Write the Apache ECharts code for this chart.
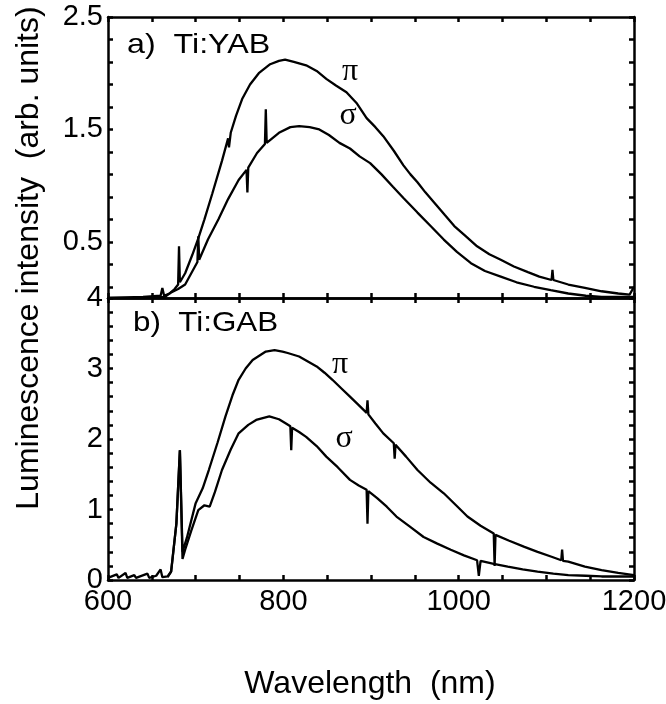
<!DOCTYPE html>
<html>
<head>
<meta charset="utf-8">
<script src="https://cdn.jsdelivr.net/npm/echarts@6/dist/echarts.min.js"></script>
<style>
  html, body { margin: 0; padding: 0; background: #fff; }
  #chart { width: 666px; height: 704px; }
</style>
</head>
<body>
<div id="chart"></div>
<script>
"use strict";
// a) Ti:YAB, pi polarisation
const yabPiWl = [600, 640, 660, 662, 664, 670, 676, 680, 681, 682, 688, 696, 703, 710, 719, 730, 737, 738, 740, 746, 753, 762, 772, 785, 795, 802, 812, 826, 838, 849, 860, 872, 884, 895, 905, 914, 926, 937, 945, 953, 962, 972, 984, 995, 1008, 1021, 1035, 1048, 1063, 1079, 1092, 1106, 1107, 1108, 1125, 1144, 1163, 1182, 1195, 1200];
const yabPiVal = [0.0, 0.01, 0.02, 0.09, 0.02, 0.04, 0.08, 0.12, 0.46, 0.14, 0.22, 0.38, 0.53, 0.7, 0.93, 1.22, 1.42, 1.34, 1.47, 1.62, 1.77, 1.9, 2.0, 2.08, 2.11, 2.12, 2.1, 2.07, 2.02, 1.95, 1.89, 1.83, 1.73, 1.6, 1.52, 1.44, 1.31, 1.18, 1.1, 1.03, 0.94, 0.85, 0.74, 0.64, 0.55, 0.46, 0.39, 0.34, 0.28, 0.23, 0.19, 0.16, 0.25, 0.16, 0.12, 0.09, 0.06, 0.04, 0.03, 0.1];
// a) Ti:YAB, sigma polarisation
const yabSigWl = [600, 640, 665, 672, 680, 688, 695, 702, 703, 704, 714, 726, 737, 749, 758, 759, 760, 770, 779, 780, 781, 795, 808, 818, 830, 841, 852, 864, 876, 887, 899, 912, 925, 937, 953, 968, 983, 998, 1014, 1030, 1048, 1066, 1086, 1105, 1125, 1145, 1163, 1200];
const yabSigVal = [0.0, 0.0, 0.01, 0.05, 0.08, 0.12, 0.22, 0.32, 0.55, 0.34, 0.52, 0.7, 0.88, 1.05, 1.14, 0.94, 1.16, 1.29, 1.37, 1.68, 1.38, 1.47, 1.52, 1.53, 1.52, 1.5, 1.45, 1.38, 1.33, 1.26, 1.2, 1.1, 0.99, 0.89, 0.76, 0.64, 0.52, 0.41, 0.31, 0.24, 0.19, 0.14, 0.1, 0.07, 0.04, 0.02, 0.01, 0.01];
// b) Ti:GAB, pi polarisation
const gabPiWl = [600, 610, 612, 620, 622, 630, 632, 645, 647, 655, 660, 662, 668, 672, 678, 682, 685, 690, 700, 708, 715, 725, 734, 742, 749, 757, 765, 780, 790, 799, 805, 818, 828, 838, 847, 856, 866, 876, 886, 895, 896, 897, 905, 914, 926, 927, 928, 940, 953, 968, 983, 997, 1010, 1025, 1040, 1041, 1042, 1057, 1075, 1090, 1106, 1117, 1118, 1119, 1125, 1144, 1163, 1182, 1200];
const gabPiVal = [0.03, 0.08, 0.03, 0.1, 0.03, 0.07, 0.03, 0.09, 0.03, 0.06, 0.15, 0.04, 0.05, 0.12, 0.8, 1.84, 0.4, 0.6, 1.09, 1.3, 1.56, 1.95, 2.32, 2.62, 2.84, 3.0, 3.12, 3.24, 3.26, 3.24, 3.22, 3.17, 3.1, 3.03, 2.94, 2.84, 2.72, 2.6, 2.48, 2.37, 2.55, 2.35, 2.22, 2.08, 1.94, 1.72, 1.92, 1.75, 1.56, 1.38, 1.23, 1.06, 0.9, 0.77, 0.66, 0.2, 0.64, 0.56, 0.47, 0.4, 0.33, 0.28, 0.43, 0.27, 0.26, 0.19, 0.14, 0.1, 0.07];
// b) Ti:GAB, sigma polarisation
const gabSigWl = [668, 672, 678, 682, 685, 688, 695, 703, 710, 716, 722, 730, 740, 749, 760, 769, 784, 795, 803, 808, 809, 810, 818, 826, 838, 849, 862, 876, 886, 895, 896, 897, 907, 918, 929, 944, 960, 975, 991, 1006, 1021, 1023, 1025, 1040, 1056, 1073, 1090, 1108, 1125, 1145, 1163, 1182, 1200];
const gabSigVal = [0.04, 0.12, 0.8, 1.84, 0.3, 0.43, 0.7, 0.99, 1.06, 1.04, 1.25, 1.56, 1.85, 2.08, 2.2, 2.27, 2.32, 2.28, 2.22, 2.18, 1.84, 2.16, 2.1, 2.03, 1.9, 1.75, 1.6, 1.42, 1.34, 1.28, 0.8, 1.26, 1.16, 1.04, 0.9, 0.76, 0.61, 0.52, 0.43, 0.35, 0.28, 0.06, 0.27, 0.23, 0.19, 0.15, 0.12, 0.09, 0.07, 0.06, 0.05, 0.05, 0.05];

// ticks and labels
const xTicks = [600, 650, 700, 750, 800, 850, 900, 950, 1000, 1050, 1100, 1150, 1200];
const xLabels = [600, 800, 1000, 1200];
const yabTicks = [0.1, 0.3, 0.5, 0.7, 0.9, 1.1, 1.3, 1.5, 1.7, 1.9, 2.1, 2.3, 2.5];
const yabLabels = [0.5, 1.5, 2.5];
const gabTicks = [0, 0.2, 0.4, 0.6, 0.8, 1, 1.2, 1.4, 1.6, 1.8, 2, 2.2, 2.4, 2.6, 2.8, 3, 3.2, 3.4, 3.6, 3.8, 4];
const gabLabels = [0, 1, 2, 3, 4];

const chart = echarts.init(document.getElementById('chart'));
const FONT = 'Liberation Sans, Arial, sans-serif';
const SERIF = 'Liberation Serif, Times New Roman, serif';

function pairs(xs, ys) {
    return xs.map((x, i) => [x, ys[i]]);
}
function xAxis(grid, pos, labels) {
    return {
        type: 'value', gridIndex: grid, position: pos, min: 600, max: 1200,
        axisLine: { show: true, onZero: false, lineStyle: { color: '#000', width: 2.5 } },
        axisTick: { show: true, inside: true, length: 5, customValues: xTicks, lineStyle: { color: '#000', width: 2.5 } },
        axisLabel: labels ? {
            show: true, customValues: xLabels, color: '#000', fontSize: 29, fontFamily: FONT, margin: 7,
            formatter: v => String(v)
        } : { show: false },
        splitLine: { show: false }
    };
}
function yAxis(grid, pos, max, ticks, labels) {
    return {
        type: 'value', gridIndex: grid, position: pos, min: 0, max: max,
        axisLine: { show: true, onZero: false, lineStyle: { color: '#000', width: 2.5 } },
        axisTick: { show: true, inside: true, length: 5, customValues: ticks, lineStyle: { color: '#000', width: 2.5 } },
        axisLabel: labels ? {
            show: true, customValues: labels, color: '#000', fontSize: 29, fontFamily: FONT, margin: 5,
            formatter: v => String(v)
        } : { show: false },
        splitLine: { show: false }
    };
}
function line(name, xs, ys, idx) {
    return {
        name, type: 'line', xAxisIndex: idx, yAxisIndex: idx,
        data: pairs(xs, ys), showSymbol: false, symbol: 'none',
        lineStyle: { color: '#000', width: 2.3 }
    };
}

const option = {
    animation: false,
    backgroundColor: '#fff',
    grid: [
        { left: 108, top: 17, width: 526, height: 281, outerBoundsMode: 'none' },
        { left: 108, top: 298, width: 526, height: 282, outerBoundsMode: 'none' }
    ],
    xAxis: [
        xAxis(0, 'bottom', false),
        xAxis(0, 'top', false),
        xAxis(1, 'bottom', true),
        xAxis(1, 'top', false)
    ],
    yAxis: [
        yAxis(0, 'left', 2.5, yabTicks, yabLabels),
        yAxis(0, 'right', 2.5, yabTicks, null),
        yAxis(1, 'left', 4, gabTicks, gabLabels),
        yAxis(1, 'right', 4, gabTicks, null)
    ],
    series: [
        line('YAB pi', yabPiWl, yabPiVal, 0),
        line('YAB sigma', yabSigWl, yabSigVal, 0),
        line('GAB pi', gabPiWl, gabPiVal, 2),
        line('GAB sigma', gabSigWl, gabSigVal, 2)
    ],
    graphic: [
        { type: 'text', x: 127, y: 45, scaleX: 1.15, style: { text: 'a)  Ti:YAB', fontSize: 28, fontFamily: FONT, fill: '#000', verticalAlign: 'middle' } },
        { type: 'text', x: 133, y: 323, scaleX: 1.12, style: { text: 'b)  Ti:GAB', fontSize: 28, fontFamily: FONT, fill: '#000', verticalAlign: 'middle' } },
        { type: 'text', x: 350, y: 72, style: { text: 'π', fontSize: 32, fontFamily: SERIF, fill: '#000', align: 'center', verticalAlign: 'middle' } },
        { type: 'text', x: 348, y: 116, style: { text: 'σ', fontSize: 32, fontFamily: SERIF, fill: '#000', align: 'center', verticalAlign: 'middle' } },
        { type: 'text', x: 340, y: 365, style: { text: 'π', fontSize: 32, fontFamily: SERIF, fill: '#000', align: 'center', verticalAlign: 'middle' } },
        { type: 'text', x: 344, y: 439, style: { text: 'σ', fontSize: 32, fontFamily: SERIF, fill: '#000', align: 'center', verticalAlign: 'middle' } },
        { type: 'text', x: 370, y: 684, style: { text: 'Wavelength  (nm)', fontSize: 32, fontFamily: FONT, fill: '#000', align: 'center', verticalAlign: 'middle' } },
        { type: 'text', x: 29, y: 258, rotation: Math.PI / 2, style: { text: 'Luminescence intensity  (arb. units)', fontSize: 32, fontFamily: FONT, fill: '#000', align: 'center', verticalAlign: 'middle' } }
    ]
};
chart.setOption(option);
</script>
</body>
</html>
